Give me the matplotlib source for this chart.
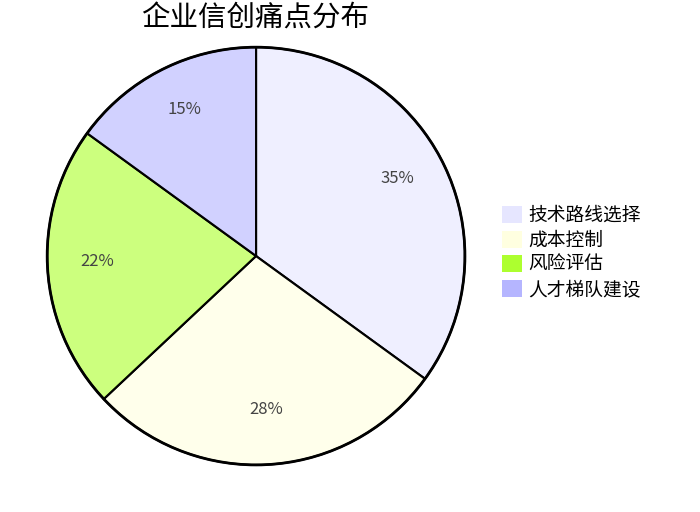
import matplotlib.pyplot as plt
from matplotlib.colors import to_rgba
from matplotlib.patches import Patch

plt.rcParams['font.family'] = ['Noto Sans CJK SC', 'DejaVu Sans']

# 数据
labels = ['技术路线选择', '成本控制', '风险评估', '人才梯队建设']
values = [35, 28, 22, 15]
colors = ['#e6e6ff', '#ffffe0', '#adff2f', '#b5b5ff']

fig = plt.figure(figsize=(7, 5.12), dpi=100)
ax = fig.add_axes([0.0643, 0.0879, 0.603, 0.824])

# 饼块半透明, 边线保持纯黑
face = [to_rgba(c, 0.62) for c in colors]
wedges, texts, autotexts = ax.pie(
    values, colors=face, startangle=90, counterclock=False,
    autopct='%1.0f%%', pctdistance=0.76,
    wedgeprops=dict(edgecolor='black', linewidth=1.5),
    textprops=dict(color='#444444', fontsize=12),
)
# 百分比文字稍微上移
for t in autotexts:
    x, y = t.get_position()
    t.set_position((x, y + 0.024))

ax.add_patch(plt.Circle((0, 0), 1.0, fill=False, edgecolor='black', linewidth=2))
ax.set_xlim(-1.01, 1.01)
ax.set_ylim(-1.01, 1.01)
ax.set_aspect('equal')

fig.text(0.365, 0.964, '企业信创痛点分布', ha='center', va='center', fontsize=20.5)

handles = [Patch(facecolor=c, edgecolor='none', label=l) for c, l in zip(colors, labels)]
fig.legend(handles=handles, loc='center left', bbox_to_anchor=(0.693, 0.507),
           frameon=False, fontsize=13.5, handlelength=1.07, handleheight=1.0,
           handletextpad=0.32, labelspacing=0.2)

fig.savefig('out.png', dpi=100)
